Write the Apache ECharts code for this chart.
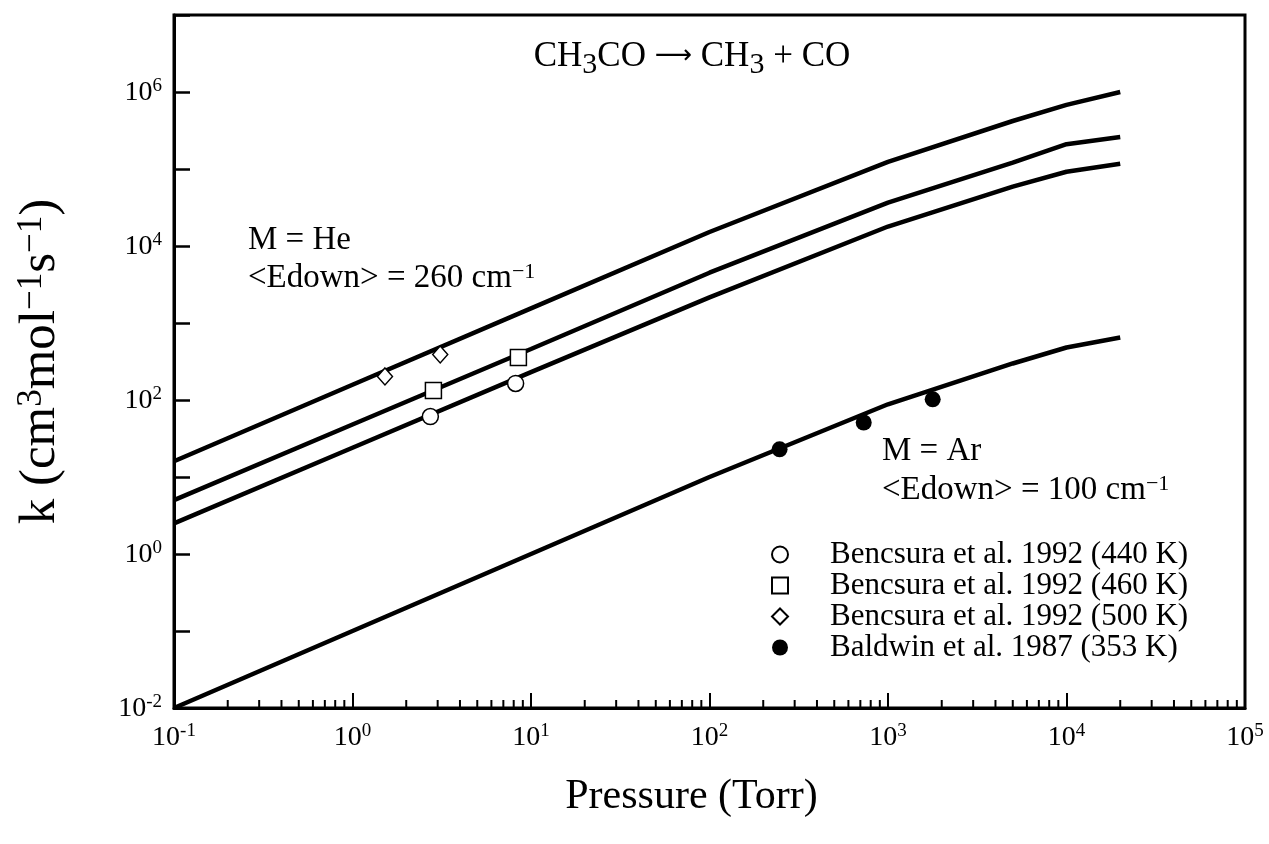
<!DOCTYPE html>
<html>
<head>
<meta charset="utf-8">
<script src="https://cdn.jsdelivr.net/npm/echarts@6/dist/echarts.min.js"></script>
<style>
  html, body { margin: 0; padding: 0; background: #fff; }
  #kchart { width: 1269px; height: 844px; }
</style>
</head>
<body>
<div id="kchart"></div>
<script>
// RRKM fall-off curves, pressure grid shared by all four lines
const pGrid = [0.1, 1, 10, 100, 1000, 5000, 10000, 20000];
const kHeTop = [16, 158, 1550, 15200, 124000, 420000, 680000, 1000000];
const kHeMid = [5.0, 48, 460, 4500, 36600, 121000, 210000, 260000];
const kHeLow = [2.5, 24, 230, 2150, 17900, 59000, 92000, 117000];
const kAr = [0.01, 0.1, 1, 10, 88, 298, 481, 649];

// experimental points
const p440 = [2.73, 8.2];
const k440 = [61, 164];
const p460 = [2.84, 8.5];
const k460 = [133, 357];
const p500 = [1.52, 3.1];
const k500 = [202, 390];
const p353 = [247, 731, 1780];
const k353 = [22.9, 51, 102];

const legendNames = [
  "Bencsura et al. 1992 (440 K)",
  "Bencsura et al. 1992 (460 K)",
  "Bencsura et al. 1992 (500 K)",
  "Baldwin et al. 1987 (353 K)"
];

// minor ticks on the pressure axis (2..9 in each decade)
const xMinorTicks = [];
[0.1, 1, 10, 100, 1000, 10000].forEach(function (d) {
  for (let m = 2; m <= 9; m++) xMinorTicks.push(+(d * m).toPrecision(3));
});

const FONT = "Liberation Serif";

const pairs = (xs, ys) => xs.map((x, i) => [x, ys[i]]);

const supRich = {
  b: { fontFamily: FONT, fontSize: 28, color: "#000", lineHeight: 30, verticalAlign: "bottom" },
  s: { fontFamily: FONT, fontSize: 19, color: "#000", lineHeight: 19, verticalAlign: "top" }
};

const powLabel = (v) => {
  const e = Math.round(Math.log10(v));
  return "{b|10}{s|" + (e < 0 ? "-" + (-e) : e) + "}";
};

const lineSeries = (name, ys) => ({
  name: name,
  type: "line",
  data: pairs(pGrid, ys),
  showSymbol: false,
  silent: true,
  lineStyle: { color: "#000", width: 4.5 },
  z: 2
});

const openStyle = { color: "#fff", borderColor: "#000", borderWidth: 1.5, opacity: 1 };

let myChart = echarts.init(document.getElementById("kchart"));

const annRich = {
  t: { fontFamily: FONT, fontSize: 33, color: "#000", lineHeight: 34, verticalAlign: "bottom" },
  u: { fontFamily: FONT, fontSize: 22, color: "#000", lineHeight: 22, verticalAlign: "top" }
};
// subscript: top-aligned token pushed down by its top padding
const titleRich = {
  t: { fontFamily: FONT, fontSize: 35, color: "#000", verticalAlign: "top" },
  a: { fontFamily: "DejaVu Sans", fontSize: 26, color: "#000", verticalAlign: "top", padding: [4, 0, 0, 0] },
  d: { fontFamily: FONT, fontSize: 30, color: "#000", verticalAlign: "top", padding: [11, 0, 0, 0] }
};

let option = {
  animation: false,
  backgroundColor: "#fff",
  grid: {
    left: 174,
    right: 24,
    top: 15,
    bottom: 136,
    show: true,
    borderColor: "#000",
    borderWidth: 3,
    outerBoundsMode: "none",
    containLabel: false
  },
  legend: {
    orient: "vertical",
    left: 771,
    top: 539,
    padding: 0,
    itemGap: 0,
    itemWidth: 16,
    itemHeight: 16,
    selectedMode: false,
    data: legendNames,
    textStyle: { fontFamily: FONT, fontSize: 31, color: "#000", lineHeight: 31, padding: [0, 0, 0, 37] }
  },
  xAxis: {
    type: "log",
    logBase: 10,
    min: 0.1,
    max: 100000,
    name: "Pressure (Torr)",
    nameLocation: "middle",
    nameGap: 68,
    nameTextStyle: { fontFamily: FONT, fontSize: 42, color: "#000", padding: [0, 36, 0, 0] },
    axisLine: { lineStyle: { color: "#000", width: 3 } },
    axisTick: { inside: true, length: 15, lineStyle: { color: "#000", width: 2 } },
    axisLabel: { margin: 14, formatter: powLabel, rich: supRich },
    splitLine: { show: false }
  },
  yAxis: {
    type: "log",
    logBase: 10,
    min: 0.01,
    max: 10000000,
    name: "{t|k (cm}{u|3}{t|mol}{u|−1}{t|s}{u|−1}{t|)}",
    nameLocation: "middle",
    nameRotate: 90,
    nameGap: 108,
    nameTextStyle: {
      rich: {
        t: { fontFamily: FONT, fontSize: 51, color: "#000", lineHeight: 52, verticalAlign: "bottom" },
        u: { fontFamily: FONT, fontSize: 35, color: "#000", lineHeight: 35, verticalAlign: "top" }
      }
    },
    axisLine: { lineStyle: { color: "#000", width: 3 } },
    axisTick: { inside: true, length: 16, lineStyle: { color: "#000", width: 2.5 } },
    axisLabel: {
      margin: 12,
      formatter: function (v) {
        const e = Math.round(Math.log10(v));
        return e % 2 === 0 ? powLabel(v) : "";
      },
      rich: supRich
    },
    splitLine: { show: false }
  },
  graphic: [
    {
      type: "text", x: 692, y: 60, silent: true,
      style: {
        text: "{t|CH}{d|3}{t|CO }{a|⟶}{t| CH}{d|3}{t| + CO}",
        rich: titleRich, align: "center", verticalAlign: "middle"
      }
    },
    {
      type: "text", x: 248, y: 240, silent: true,
      style: { text: "{t|M = He}", rich: annRich, align: "left", verticalAlign: "middle" }
    },
    {
      type: "text", x: 248, y: 278, silent: true,
      style: { text: "{t|<Edown> = 260 cm}{u|−1}", rich: annRich, align: "left", verticalAlign: "middle" }
    },
    {
      type: "text", x: 882, y: 451, silent: true,
      style: { text: "{t|M = Ar}", rich: annRich, align: "left", verticalAlign: "middle" }
    },
    {
      type: "text", x: 882, y: 490, silent: true,
      style: { text: "{t|<Edown> = 100 cm}{u|−1}", rich: annRich, align: "left", verticalAlign: "middle" }
    }
  ],
  series: [
    lineSeries("He 500 K", kHeTop),
    lineSeries("He 460 K", kHeMid),
    lineSeries("He 440 K", kHeLow),
    lineSeries("Ar 353 K", kAr),
    {
      name: legendNames[0], type: "scatter", symbol: "circle", symbolSize: 16,
      data: pairs(p440, k440), itemStyle: openStyle, z: 5
    },
    {
      name: legendNames[1], type: "scatter", symbol: "rect", symbolSize: 16,
      data: pairs(p460, k460), itemStyle: openStyle, z: 5
    },
    {
      name: legendNames[2], type: "scatter", symbol: "diamond", symbolSize: [15, 17],
      data: pairs(p500, k500), itemStyle: openStyle, z: 5
    },
    {
      name: legendNames[3], type: "scatter", symbol: "circle", symbolSize: 16,
      data: pairs(p353, k353), itemStyle: { color: "#000", opacity: 1 }, z: 5
    },
    {
      name: "minor", type: "custom", silent: true, clip: false,
      data: xMinorTicks.map((v) => [v, 0.01]),
      renderItem: function (params, api) {
        const p = api.coord([api.value(0), api.value(1)]);
        return {
          type: "line",
          shape: { x1: p[0], y1: p[1], x2: p[0], y2: p[1] - 8 },
          style: { stroke: "#000", lineWidth: 2 }
        };
      },
      z: 3
    }
  ]
};

option && myChart.setOption(option);
</script>
</body>
</html>
